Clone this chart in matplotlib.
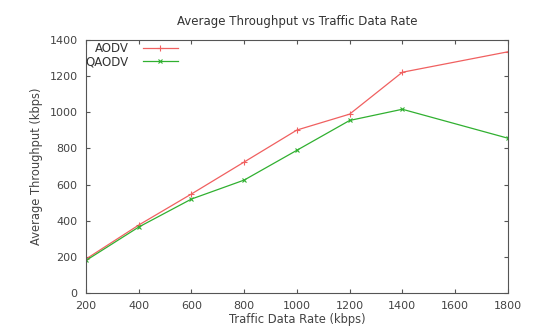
import matplotlib
matplotlib.use('Agg')
import matplotlib.pyplot as plt

# === DATA ===
rates = [200, 400, 600, 800, 1000, 1200, 1400, 1800]
aodv = [188, 376, 548, 725, 902, 990, 1222, 1335]
qaodv = [180, 365, 520, 625, 790, 955, 1017, 857]
x_ticks = [200, 400, 600, 800, 1000, 1200, 1400, 1600, 1800]
y_ticks = [0, 200, 400, 600, 800, 1000, 1200, 1400]

# === PLOT ===
fig = plt.figure(figsize=(5.46, 3.34), dpi=100)
ax = fig.add_axes([0.1575, 0.1228, 0.7725, 0.7572])

ax.plot(rates, aodv, color='#f06060', lw=0.9, marker='+', ms=4, mew=0.8, label='AODV')
ax.plot(rates, qaodv, color='#30b030', lw=0.9, marker='x', ms=3, mew=0.8, label='QAODV')

ax.set_xlim(200, 1800)
ax.set_ylim(0, 1400)
ax.set_xticks(x_ticks)
ax.set_yticks(y_ticks)
ax.tick_params(direction='in', top=True, right=True, length=3, labelsize=8,
               labelcolor='#444444', color='#555555', pad=6)
for s in ax.spines.values():
    s.set_color('#555555')
    s.set_linewidth(0.8)

ax.set_title('Average Throughput vs Traffic Data Rate', fontsize=8.5, color='#333333', pad=11)
ax.set_xlabel('Traffic Data Rate (kbps)', fontsize=8.3, color='#444444', labelpad=1)
ax.set_ylabel('Average Throughput (kbps)', fontsize=8.3, color='#444444', labelpad=5)

# gnuplot-like key: text right-aligned, sample line after it
leg = ax.legend(loc='upper left', fontsize=8.5, frameon=False, markerfirst=False,
                handlelength=3.0, borderaxespad=0.0, labelspacing=0.0,
                handletextpad=1.2, bbox_to_anchor=(-0.013, 1.01))
for t in leg.get_texts():
    t.set_color('#333333')

fig.savefig('out.png', dpi=100)
